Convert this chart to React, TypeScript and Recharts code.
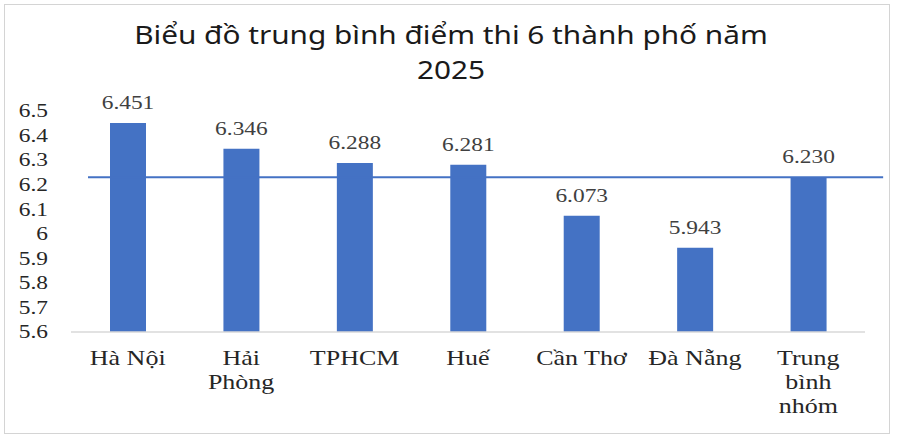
import React from "react";
import { BarChart, Bar, XAxis, YAxis, LabelList, ReferenceLine } from "recharts";

const categories = ["Hà Nội", "Hải\nPhòng", "TPHCM", "Huế", "Cần Thơ", "Đà Nẵng", "Trung\nbình\nnhóm"];
const scores = [6.451, 6.346, 6.288, 6.281, 6.073, 5.943, 6.23];
const groupAverage = 6.23;
// how far the average line reaches past the plot edges, in category widths
const avgLineOverhang = [-0.15, 0.16];
const yTicks = [5.6, 5.7, 5.8, 5.9, 6, 6.1, 6.2, 6.3, 6.4, 6.5];
const titleLines = ["Biểu đồ trung bình điểm thi 6 thành phố năm", "2025"];

const data = categories.map((c, i) => ({ name: c, value: scores[i] }));

const SERIF = "Liberation Serif";
const BLUE = "#4472C4";
const STRETCH = 1.3;

const XTick = (props: any) => {
  const { x, y, payload } = props;
  const lines = String(payload.value).split("\n");
  return (
    <g transform={`translate(${x},${y}) scale(${STRETCH},1)`}>
      <text x={0} y={0} textAnchor="middle" fill="#262626" fontFamily={SERIF} fontSize={20}>
        {lines.map((l, i) => (
          <tspan key={i} x={0} dy={i === 0 ? 25 : 24}>
            {l}
          </tspan>
        ))}
      </text>
    </g>
  );
};

const YTick = (props: any) => {
  const { x, y, payload } = props;
  return (
    <g transform={`translate(${x + 1},${y}) scale(${STRETCH},1)`}>
      <text x={0} y={0} dy="0.35em" textAnchor="end" fill="#262626" fontFamily={SERIF} fontSize={18}>
        {String(payload.value)}
      </text>
    </g>
  );
};

const ValueLabel = (props: any) => {
  const { x, y, width, value } = props;
  const cx = x + width / 2;
  return (
    <g transform={`translate(${cx},${y - 14}) scale(${STRETCH},1)`}>
      <text x={0} y={0} textAnchor="middle" fill="#404040" fontFamily={SERIF} fontSize={18}>
        {Number(value).toFixed(3)}
      </text>
    </g>
  );
};

const AvgLine = (props: any) => {
  const { x1, x2, y1, y2 } = props;
  const band = (x2 - x1) / categories.length;
  return (
    <line
      x1={x1 + avgLineOverhang[0] * band * -1}
      x2={x2 + avgLineOverhang[1] * band}
      y1={y1}
      y2={y2}
      stroke={BLUE}
      strokeWidth={2}
    />
  );
};

export default function App() {
  return (
    <div style={{ position: "absolute", left: 0, top: 0, width: 900, height: 439, background: "#fff" }}>
      <div
        style={{
          position: "absolute",
          left: 4,
          top: 4,
          width: 886,
          height: 430,
          border: "1px solid #d4d4d4",
          boxSizing: "border-box",
        }}
      />
      <div
        style={{
          position: "absolute",
          left: 0,
          top: 17,
          width: 900,
          textAlign: "center",
          fontFamily: "'Noto Sans', sans-serif",
          fontSize: 25,
          lineHeight: "35px",
          color: "#1a1a1a",
          transform: "scaleX(1.19)",
          transformOrigin: "445px 0",
        }}
      >
        {titleLines.map((t, i) => (
          <div key={i}>{t}</div>
        ))}
      </div>
      <div style={{ position: "absolute", left: 0, top: 0 }}>
        <BarChart width={900} height={439} data={data} margin={{ top: 111, right: 35, bottom: 0, left: 0 }}>
          <XAxis
            dataKey="name"
            axisLine={{ stroke: "#d9d9d9", strokeWidth: 1.5 }}
            tickLine={false}
            tick={<XTick />}
            interval={0}
            height={107}
          />
          <YAxis
            domain={[5.6, 6.5]}
            ticks={yTicks}
            axisLine={false}
            tickLine={false}
            width={71}
            tick={<YTick />}
            tickMargin={18}
            interval={0}
            allowDataOverflow
          />
          <Bar dataKey="value" fill={BLUE} barSize={36} isAnimationActive={false}>
            <LabelList dataKey="value" content={<ValueLabel />} />
          </Bar>
          <ReferenceLine y={groupAverage} ifOverflow="visible" shape={<AvgLine />} />
        </BarChart>
      </div>
    </div>
  );
}
